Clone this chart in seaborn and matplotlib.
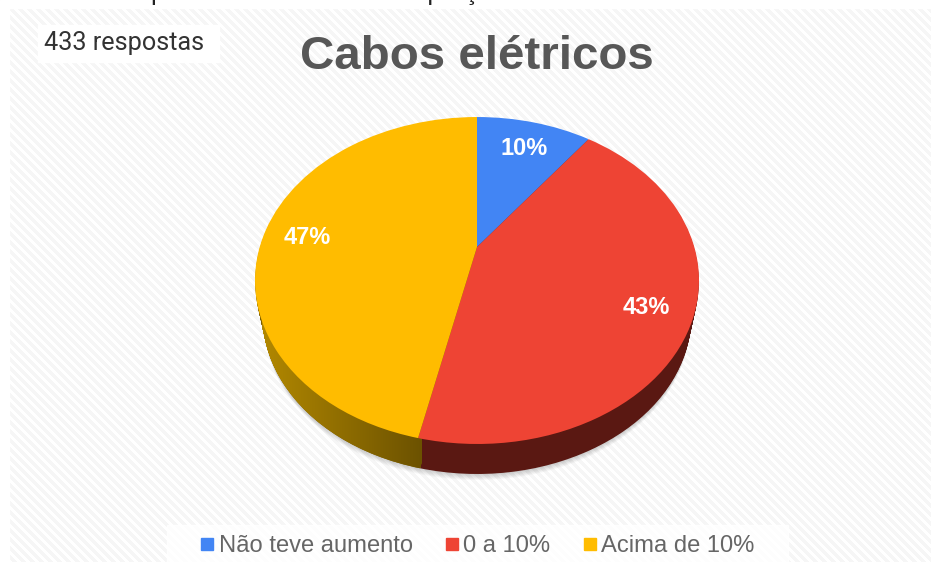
import numpy as np
import matplotlib
matplotlib.use("Agg")
import matplotlib.pyplot as plt
import seaborn as sns
from matplotlib.patches import Rectangle
from matplotlib.path import Path
from matplotlib.transforms import Affine2D, Transform

# Values, the printed labels are rounded
categories = ["Não teve aumento", "0 a 10%", "Acima de 10%"]
shares = [10.2, 43.28, 46.52]
colors = ["#4285F4", "#EE4434", "#FFBC00"]
wall_colors = ["#1F3F75", "#5A1812", "#7A5C00"]
title = "Cabos elétricos"
responses = "433 respostas"
cut_text = "Percentual dos itens que tiveram aumento de preço"

W, H = 931, 562


class Tilt(Transform):
    # perspective look of a disc lying down, output in pixels
    input_dims = 2
    output_dims = 2

    def __init__(self, cx=477, cy=247, a=217.3, b=156.6, k=0.2048):
        super().__init__()
        self.cx, self.cy, self.a, self.b, self.k = cx, cy, a, b, k

    def transform_non_affine(self, values):
        values = np.asarray(values, dtype=float)
        d = 1 + self.k * values[:, 1]
        return np.column_stack([self.cx + self.a * values[:, 0] / d,
                                self.cy - self.b * values[:, 1] / d])


def layer(t):
    return Tilt(cy=247 + t * 36.9, a=217.3 * (1 - 0.035 * t), b=156.6 * (1 - 0.035 * t))


sns.set_theme(style="white")
plt.rcParams["font.family"] = ["Roboto", "DejaVu Sans"]

fig = plt.figure(figsize=(W / 100, H / 100), dpi=100)
ax = fig.add_axes([0, 0, 1, 1])
flat = dict(linewidth=0)

# side wall and soft shadow are stacks of the same pie
for i in range(36, 0, -1):
    if i > 30:
        wedges, _ = ax.pie(shares, colors=["black"] * 3, startangle=90, counterclock=False, wedgeprops=flat)
        for w in wedges:
            w.set_alpha(0.03)
    else:
        wedges, _ = ax.pie(shares, colors=wall_colors, startangle=90, counterclock=False, wedgeprops=flat)
    for w in wedges:
        w.set_transform(layer(i / 30) + ax.transData)

wall_paths = []
for i in range(0, 31):
    wedges, _ = ax.pie(shares, colors=wall_colors, startangle=90, counterclock=False, wedgeprops=flat)
    wall_paths.append(layer(i / 30).transform_path(wedges[2].get_path()))
    for w in wedges:
        w.remove()

# lighter to the left on the yellow wall
grad = np.zeros((1, 256, 3))
grad[0, :, 0] = np.linspace(178, 108, 256) / 255
grad[0, :, 1] = np.linspace(136, 82, 256) / 255
grad[0, :, 2] = 0
ax.imshow(grad, extent=(262, 422, 480, 300), aspect="auto", zorder=2,
          clip_path=(Path.make_compound_path(*wall_paths), ax.transData))

top = Tilt()
wedges, _, autotexts = ax.pie(shares, colors=colors, startangle=90, counterclock=False,
                              autopct="%.0f%%", pctdistance=0.8, wedgeprops=flat,
                              textprops=dict(color="white", fontsize=17, fontweight="bold",
                                             family=["Liberation Sans"]))
for w in wedges:
    w.set_transform(top + ax.transData)
    w.set_zorder(3)
for a in autotexts:
    a.set_transform(top + ax.transData + Affine2D().translate(0, -4))
    a.set_zorder(4)

# striped background
yy, xx = np.mgrid[0:H, 0:W]
stripes = np.where((xx - yy) % 9 < 4.5, 0.962, 1.0)
ax.imshow(stripes, cmap="gray", vmin=0, vmax=1, extent=(0, W, H, 0), aspect="auto",
          zorder=-5, interpolation="bilinear")
ax.add_patch(Rectangle((0, 0), W, 8, color="white", zorder=-4))
ax.add_patch(Rectangle((0, 0), 9, H, color="white", zorder=-4))
ax.add_patch(Rectangle((38, 25), 181, 37, color="white", zorder=-3))
ax.add_patch(Rectangle((167, 525), 621, 37, color="white", alpha=0.85, zorder=-3))

ax.set_aspect("auto")
ax.set_xlim(0, W)
ax.set_ylim(H, 0)
ax.axis("off")

ax.text(44, 43, responses, fontsize=18.2, color="#333333", va="center", ha="left")
ax.text(477, 57, title, fontsize=34.2, color="#575757", va="center", ha="center",
        fontweight="bold", family=["Liberation Sans"])
ax.text(492, 0.2, cut_text, fontsize=18.5, color="#222222", va="baseline", ha="right",
        family=["Liberation Sans"])

# legend, one square and label per category
for x_box, x_txt, name, c in zip([201, 446, 584], [219, 463, 601], categories, colors):
    ax.add_patch(Rectangle((x_box, 538), 12, 12, color=c, zorder=5))
    ax.text(x_txt, 546, name, fontsize=17.1, color="#666666", va="center", ha="left",
            family=["Liberation Sans"], zorder=5)

fig.savefig("out.png", dpi=100)
